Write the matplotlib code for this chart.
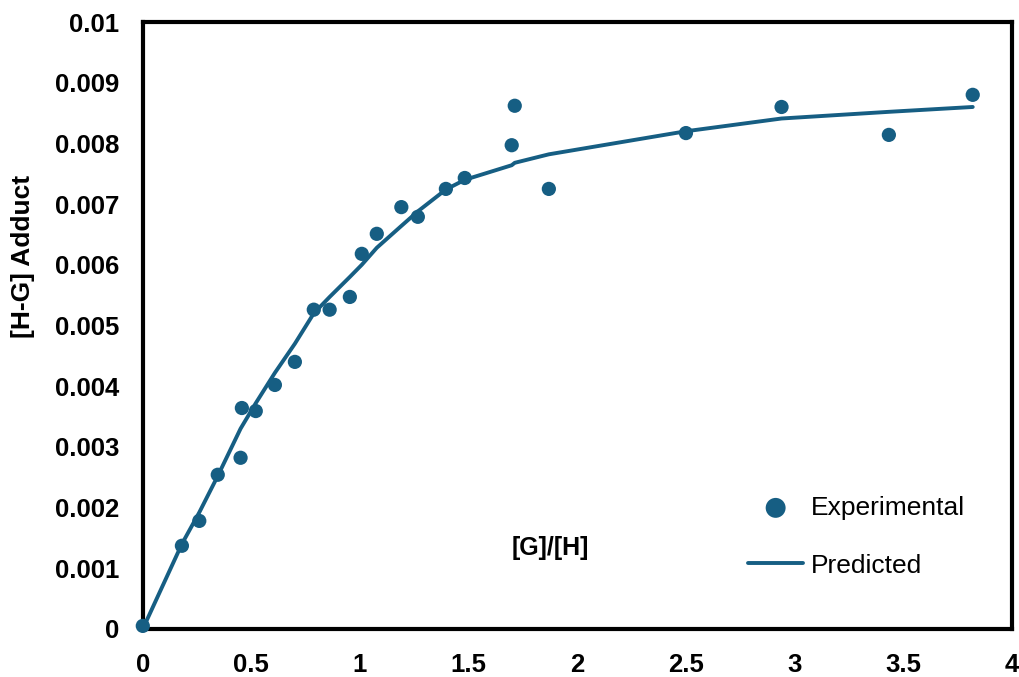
import numpy as np
import matplotlib.pyplot as plt

plt.rcParams['font.family'] = ['Liberation Sans', 'DejaVu Sans']

# datos experimentales
x_exp = [0.0, 0.18, 0.26, 0.345, 0.45, 0.456, 0.52, 0.608, 0.70, 0.787, 0.86, 0.953,
         1.008, 1.077, 1.19, 1.266, 1.395, 1.482, 1.698, 1.712, 1.869, 2.50, 2.94,
         3.434, 3.82]
y_exp = [0.00005, 0.00137, 0.00178, 0.00254, 0.00282, 0.00364, 0.00359, 0.00402,
         0.00440, 0.00526, 0.00526, 0.00547, 0.00618, 0.00651, 0.00695, 0.00679,
         0.00725, 0.00743, 0.00797, 0.00862, 0.00725, 0.00817, 0.00860, 0.00814,
         0.00880]

# curva predicha
x_pred = [0.0, 0.18, 0.26, 0.345, 0.45, 0.52, 0.608, 0.70, 0.787, 0.86, 0.953,
          1.008, 1.077, 1.19, 1.266, 1.395, 1.482, 1.698, 1.712, 1.869, 2.50, 2.94,
          3.434, 3.82]
y_pred = [0.0, 0.00140, 0.00192, 0.00252, 0.00330, 0.00372, 0.00422, 0.00470,
          0.00520, 0.00547, 0.00580, 0.00600, 0.00628, 0.00664, 0.00688, 0.00724,
          0.00740, 0.00764, 0.00768, 0.00782, 0.00820, 0.00841, 0.00852, 0.00860]

color = '#165e83'

fig = plt.figure(figsize=(10.2, 6.77), dpi=100)
ax = fig.add_axes([0.140, 0.071, 0.852, 0.8965])

ax.plot(x_pred, y_pred, color=color, lw=2.8, label='Predicted', zorder=2,
        solid_capstyle='round', solid_joinstyle='round')
ax.scatter(x_exp, y_exp, s=105, color=color, label='Experimental', zorder=3,
           clip_on=False, edgecolors='none')

ax.set_xlim(0, 4)
ax.set_ylim(0, 0.01)
ax.set_xticks(np.arange(0, 4.01, 0.5))
ax.set_xticklabels(['0', '0.5', '1', '1.5', '2', '2.5', '3', '3.5', '4'])
ax.set_yticks(np.arange(0, 0.0101, 0.001))
ax.set_yticklabels(['0', '0.001', '0.002', '0.003', '0.004', '0.005', '0.006',
                    '0.007', '0.008', '0.009', '0.01'])
ax.tick_params(length=0, labelsize=18.5, pad=17)
for lab in ax.get_xticklabels() + ax.get_yticklabels():
    lab.set_fontweight('bold')

for s in ax.spines.values():
    s.set_linewidth(3)
    s.set_color('black')

ax.set_ylabel('[H-G] Adduct', fontsize=19, fontweight='bold', va='center')
ax.yaxis.set_label_coords(-0.138, 0.614)
ax.text(0.469, 0.134, '[G]/[H]', transform=ax.transAxes, fontsize=18,
        fontweight='bold', ha='center', va='center')

h, l = ax.get_legend_handles_labels()
ax.legend(h[::-1], l[::-1], loc='center left', bbox_to_anchor=(0.669, 0.152),
          frameon=False, fontsize=19, handlelength=2.1, handletextpad=0.3,
          labelspacing=1.28, markerscale=1.4)

fig.savefig('out.png', dpi=100)
